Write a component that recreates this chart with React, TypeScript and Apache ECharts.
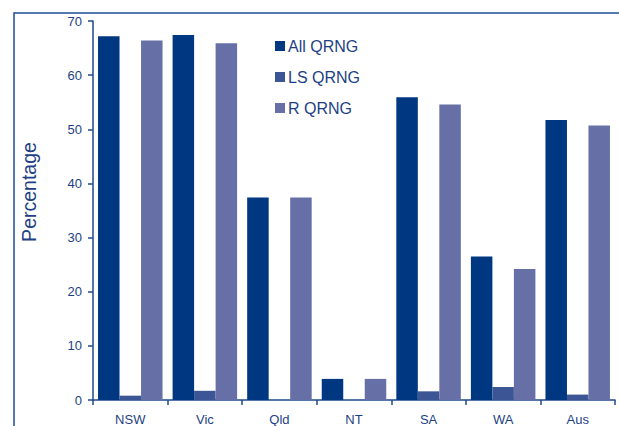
import React, { useEffect, useRef } from "react";
import * as echarts from "echarts";

const categories = ["NSW", "Vic", "Qld", "NT", "SA", "WA", "Aus"];
const allQrng = [67.2, 67.4, 37.4, 3.9, 55.9, 26.5, 51.7];
const lsQrng = [0.8, 1.7, 0, 0, 1.6, 2.4, 1.0];
const rQrng = [66.4, 65.9, 37.4, 3.9, 54.6, 24.2, 50.7];
const seriesNames = ["All QRNG", "LS QRNG", "R QRNG"];
const yTicks = { min: 0, max: 70, interval: 10 };
const yAxisTitle = "Percentage";

const textColor = "#1d3f85";
const axisColor = "#1f4a8e";
const colors = ["#003781", "#3b5595", "#6670a7"];

export default function App() {
  const ref = useRef<HTMLDivElement>(null);
  useEffect(() => {
    document.body.style.margin = "0";
    const chart = echarts.init(ref.current!, null, { renderer: "svg" });
    const font = "'Liberation Sans', Arial, sans-serif";
    chart.setOption({
      animation: false,
      textStyle: { fontFamily: font },
      color: colors,
      grid: { left: 93, top: 21, right: 4, bottom: 26 },
      legend: {
        orient: "vertical",
        left: 270,
        top: 33,
        icon: "rect",
        itemWidth: 10,
        itemHeight: 10,
        itemGap: 15,
        textStyle: { color: textColor, fontSize: 16, fontFamily: font, padding: [0, 0, 0, -2] },
        data: seriesNames,
      },
      xAxis: {
        type: "category",
        data: categories,
        axisLine: { lineStyle: { color: axisColor, width: 1.5 } },
        axisTick: { show: true, length: 5, inside: false, lineStyle: { color: axisColor, width: 1.5 } },
        axisLabel: { color: textColor, fontSize: 13, margin: 13, fontFamily: font },
      },
      yAxis: {
        type: "value",
        min: yTicks.min,
        max: yTicks.max,
        interval: yTicks.interval,
        splitLine: { show: false },
        axisLine: { show: true, lineStyle: { color: axisColor, width: 1.5 } },
        axisTick: { show: true, length: 5, lineStyle: { color: axisColor, width: 1.5 } },
        axisLabel: { color: textColor, fontSize: 13, margin: 11, fontFamily: font },
      },
      graphic: [
        {
          type: "rect",
          shape: { x: 14, y: 13, width: 800, height: 600 },
          style: { fill: "none", stroke: "#1f4e96", lineWidth: 1.5 },
          silent: true,
          z: -1,
        },
        {
          type: "text",
          x: 29,
          y: 192,
          rotation: Math.PI / 2,
          style: {
            text: yAxisTitle,
            fill: textColor,
            font: `19.5px ${font}`,
            align: "center",
            verticalAlign: "middle",
          },
        },
      ],
      series: [
        { name: seriesNames[0], type: "bar", data: allQrng, barGap: "0%", barCategoryGap: "13.5%" },
        { name: seriesNames[1], type: "bar", data: lsQrng, barGap: "0%", barCategoryGap: "13.5%" },
        { name: seriesNames[2], type: "bar", data: rQrng, barGap: "0%", barCategoryGap: "13.5%" },
      ],
    });
    return () => chart.dispose();
  }, []);
  return <div ref={ref} style={{ width: 619, height: 426 }} />;
}
